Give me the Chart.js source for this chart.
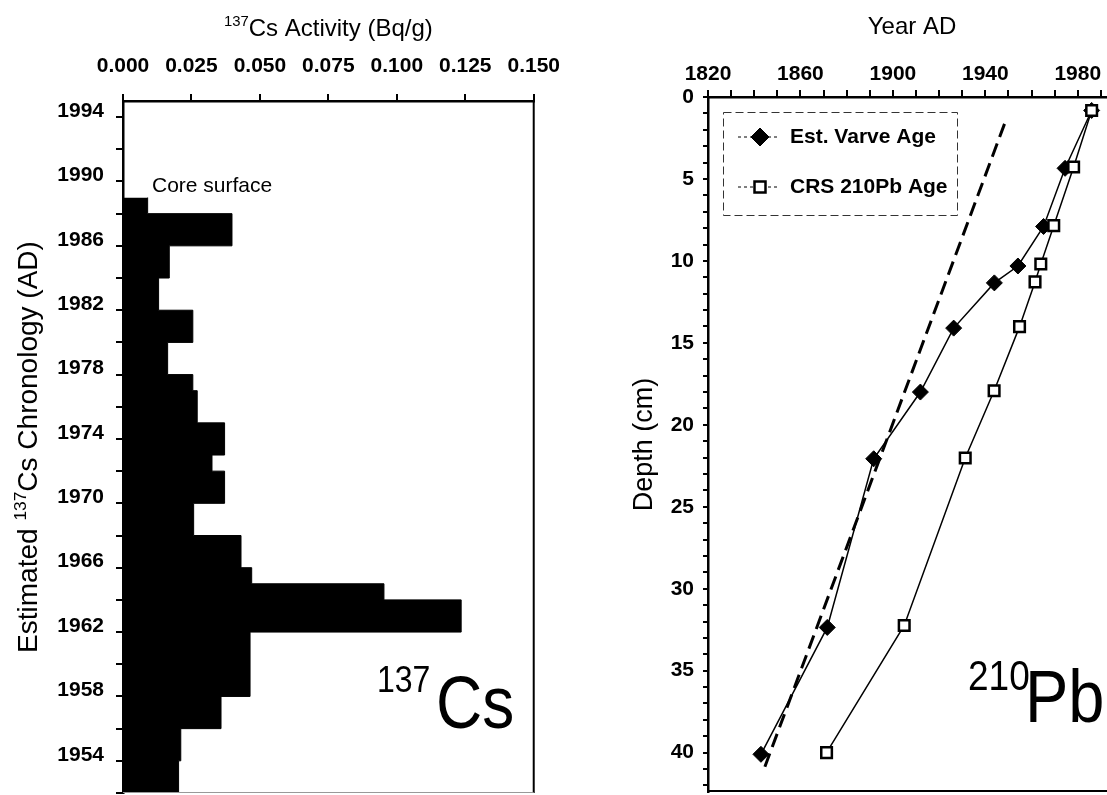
<!DOCTYPE html>
<html>
<head>
<meta charset="utf-8">
<script src="https://cdn.jsdelivr.net/npm/chart.js@4.4.1/dist/chart.umd.min.js"></script>
<style>
  html, body { margin: 0; padding: 0; background: #fff; overflow: hidden; width: 1107px; height: 795px; }
  #left { position: absolute; left: 0; top: 0; }
  #right { position: absolute; left: 580px; top: 0; }
</style>
</head>
<body>
<canvas id="left" width="575" height="795"></canvas>
<canvas id="right" width="564" height="795"></canvas>
<script>
// 137Cs profile: bin edges (year AD) and activity of each bin (Bq/g)
const csBinEdges = [1952, 1954, 1956, 1958, 1962, 1964, 1965, 1966, 1968, 1970, 1972, 1973, 1975, 1977, 1978, 1980, 1982, 1984, 1986, 1988, 1989];
const csActivity = [0.0203, 0.0211, 0.0358, 0.0464, 0.1235, 0.0953, 0.0470, 0.0431, 0.0258, 0.0371, 0.0325, 0.0371, 0.0271, 0.0255, 0.0163, 0.0255, 0.0130, 0.0169, 0.0398, 0.0090];
const csYearLabels = [1954, 1958, 1962, 1966, 1970, 1974, 1978, 1982, 1986, 1990, 1994];

// 210Pb panel: depth (cm) against age (year AD)
const varveDepth = [0.82, 4.35, 7.9, 10.31, 11.34, 14.1, 18.0, 22.07, 32.36, 40.1];
const varveYear = [1986.0, 1974.5, 1965.2, 1954.1, 1943.9, 1926.3, 1911.9, 1891.7, 1871.6, 1842.9];
const crsDepth = [0.82, 4.27, 7.85, 10.19, 11.28, 14.01, 17.92, 22.02, 32.24, 40.0];
const crsYear = [1986.0, 1978.2, 1969.6, 1964.0, 1961.5, 1954.8, 1943.8, 1931.3, 1904.9, 1871.3];
const trendDepth = [1.64, 41.2];
const trendYear = [1948.3, 1843.7];
const pbYearLabels = [1820, 1860, 1900, 1940, 1980];
const depthLabels = [0, 5, 10, 15, 20, 25, 30, 35, 40];

const FONT = "'Liberation Sans', Arial, sans-serif";
Chart.defaults.font.family = FONT;
Chart.defaults.color = '#000';

// text with superscript parts, y = baseline
function richText(ctx, parts, x, y, size, align) {
  const fonts = parts.map(p => (p.sup ? size * 0.62 : size) + 'px ' + FONT);
  let total = 0;
  const widths = parts.map((p, i) => {
    ctx.font = fonts[i];
    const w = ctx.measureText(p.t).width;
    total += w;
    return w;
  });
  let cx = align === 'center' ? x - total / 2 : x;
  ctx.textAlign = 'left';
  ctx.textBaseline = 'alphabetic';
  parts.forEach((p, i) => {
    ctx.font = fonts[i];
    ctx.fillText(p.t, cx, p.sup ? y - size * 0.4 : y);
    cx += widths[i];
  });
}

// big isotope label, slightly stretched vertically like the scan
function bigLabel(ctx, sup, main, sx, sBase, sSize, mx, mBase, mSize) {
  ctx.textAlign = 'left';
  ctx.textBaseline = 'alphabetic';
  [[sup, sx, sBase, sSize], [main, mx, mBase, mSize]].forEach(([t, x, y, s]) => {
    ctx.save();
    ctx.translate(x, y);
    ctx.scale(1, 1.15);
    ctx.font = s + 'px ' + FONT;
    ctx.fillText(t, 0, 0);
    ctx.restore();
  });
}

// fixed axis box sizes, no extra label padding along the axis
const fixHeight = h => s => { s.height = h; };
const fixWidth = w => s => { s.width = w; s.paddingTop = 0; s.paddingBottom = 0; };

const leftDecor = {
  id: 'leftDecor',
  afterDraw(chart) {
    const { ctx, chartArea: a } = chart;
    ctx.save();
    ctx.strokeStyle = '#000';
    ctx.lineWidth = 2;
    ctx.beginPath(); ctx.moveTo(a.right, a.top); ctx.lineTo(a.right, a.bottom); ctx.stroke();
    ctx.strokeStyle = '#999';
    ctx.lineWidth = 1;
    ctx.beginPath(); ctx.moveTo(a.left, a.bottom - 0.5); ctx.lineTo(a.right, a.bottom - 0.5); ctx.stroke();

    ctx.fillStyle = '#000';
    richText(ctx, [{ t: '137', sup: true }, { t: 'Cs Activity (Bq/g)' }], (a.left + a.right) / 2, 36, 24, 'center');

    ctx.save();
    ctx.translate(37, (a.top + a.bottom) / 2);
    ctx.rotate(-Math.PI / 2);
    richText(ctx, [{ t: 'Estimated ' }, { t: '137', sup: true }, { t: 'Cs Chronology (AD)' }], 0, 0, 28, 'center');
    ctx.restore();

    ctx.font = '21px ' + FONT;
    ctx.textAlign = 'left';
    ctx.textBaseline = 'alphabetic';
    ctx.fillText('Core surface', 152, 192);

    bigLabel(ctx, '137', 'Cs', 377, 692, 32, 436, 728, 64);
    ctx.restore();
  }
};

const csPoints = csBinEdges.map((y, i) => ({ x: csActivity[Math.min(i, csActivity.length - 1)], y }));

new Chart(document.getElementById('left'), {
  type: 'line',
  data: {
    datasets: [{
      data: csPoints,
      stepped: 'after',
      fill: 'origin',
      backgroundColor: '#000',
      borderColor: '#000',
      borderWidth: 1,
      pointRadius: 0
    }]
  },
  options: {
    indexAxis: 'y',
    responsive: false,
    animation: false,
    layout: { autoPadding: false, padding: { left: 0, top: 0, right: 39, bottom: 2 } },
    plugins: { legend: { display: false }, tooltip: { enabled: false } },
    scales: {
      x: {
        type: 'linear', position: 'top', min: 0, max: 0.15,
        afterFit: fixHeight(101),
        border: { color: '#000', width: 2.5 },
        grid: { drawOnChartArea: false, color: '#000', lineWidth: 2, tickLength: 7 },
        ticks: {
          stepSize: 0.025, padding: 15, autoSkip: false, maxRotation: 0,
          font: { size: 21, weight: 'bold' },
          callback: v => v.toFixed(3)
        }
      },
      y: {
        type: 'linear', min: 1952, max: 1995,
        afterFit: fixWidth(123),
        border: { color: '#000', width: 2.5 },
        grid: { drawOnChartArea: false, color: '#000', lineWidth: 2, tickLength: 7 },
        ticks: {
          stepSize: 2, includeBounds: false, padding: 12, autoSkip: false, labelOffset: -6,
          font: { size: 21, weight: 'bold' },
          callback: v => csYearLabels.includes(v) ? String(v) : ''
        }
      }
    }
  },
  plugins: [leftDecor]
});

const rightDecor = {
  id: 'rightDecor',
  afterDraw(chart) {
    const { ctx, chartArea: a } = chart;
    ctx.save();
    ctx.strokeStyle = '#000';
    ctx.lineWidth = 2;
    ctx.beginPath(); ctx.moveTo(a.left, a.bottom - 1); ctx.lineTo(a.right, a.bottom - 1); ctx.stroke();

    ctx.fillStyle = '#000';
    ctx.font = '24px ' + FONT;
    ctx.textAlign = 'center';
    ctx.textBaseline = 'alphabetic';
    ctx.fillText('Year AD', 332, 34);

    ctx.save();
    ctx.translate(72, (a.top + a.bottom) / 2);
    ctx.rotate(-Math.PI / 2);
    ctx.font = '27px ' + FONT;
    ctx.fillText('Depth (cm)', 0, 0);
    ctx.restore();

    bigLabel(ctx, '210', 'Pb', 388, 690, 37, 445, 722, 65);

    // legend box
    ctx.lineWidth = 1;
    ctx.strokeStyle = '#333';
    ctx.setLineDash([8, 4]);
    ctx.strokeRect(143.5, 112.5, 234, 103);
    const entries = chart.data.datasets.slice(0, 2);
    entries.forEach((ds, i) => {
      const y = 137 + i * 50;
      ctx.setLineDash([3, 3]);
      ctx.strokeStyle = '#000';
      ctx.lineWidth = 1;
      ctx.beginPath(); ctx.moveTo(158, y); ctx.lineTo(198, y); ctx.stroke();
      ctx.setLineDash([]);
      ctx.beginPath();
      if (ds.pointStyle === 'rectRot') {
        const r = 9;
        ctx.moveTo(180 - r, y); ctx.lineTo(180, y - r); ctx.lineTo(180 + r, y); ctx.lineTo(180, y + r);
      } else {
        const h = 5.5;
        ctx.rect(180 - h, y - h, 2 * h, 2 * h);
      }
      ctx.closePath();
      ctx.fillStyle = ds.pointBackgroundColor;
      ctx.fill();
      ctx.lineWidth = ds.pointBorderWidth;
      ctx.stroke();
      ctx.fillStyle = '#000';
      ctx.font = 'bold 21px ' + FONT;
      ctx.textAlign = 'left';
      ctx.textBaseline = 'middle';
      ctx.fillText(ds.label, 210, y);
    });
    ctx.restore();
  }
};

new Chart(document.getElementById('right'), {
  type: 'scatter',
  data: {
    datasets: [
      {
        label: 'Est. Varve Age',
        data: varveYear.map((x, i) => ({ x, y: varveDepth[i] })),
        showLine: true, borderColor: '#000', borderWidth: 1.5,
        pointStyle: 'rectRot', pointRadius: 8,
        pointBackgroundColor: '#000', pointBorderColor: '#000', pointBorderWidth: 1,
        order: 2
      },
      {
        label: 'CRS 210Pb Age',
        data: crsYear.map((x, i) => ({ x, y: crsDepth[i] })),
        showLine: true, borderColor: '#000', borderWidth: 1.5,
        pointStyle: 'rect', pointRadius: 7.5,
        pointBackgroundColor: '#fff', pointBorderColor: '#000', pointBorderWidth: 2.5,
        order: 1
      },
      {
        label: 'trend',
        data: trendYear.map((x, i) => ({ x, y: trendDepth[i] })),
        showLine: true, borderColor: '#000', borderWidth: 3, borderDash: [14, 7],
        pointRadius: 0,
        order: 3
      }
    ]
  },
  options: {
    responsive: false,
    animation: false,
    layout: { autoPadding: false, padding: { left: 0, top: 0, right: 20, bottom: 3 } },
    plugins: { legend: { display: false }, tooltip: { enabled: false } },
    scales: {
      x: {
        type: 'linear', position: 'top', min: 1820, max: 2000,
        afterFit: fixHeight(97),
        border: { color: '#000', width: 2.5 },
        grid: { drawOnChartArea: false, color: '#000', lineWidth: 2, tickLength: 7 },
        ticks: {
          stepSize: 10, padding: 3, autoSkip: false, maxRotation: 0,
          font: { size: 21, weight: 'bold' },
          callback: v => pbYearLabels.includes(v) ? String(v) : ''
        }
      },
      y: {
        type: 'linear', reverse: true, min: 0, max: 42.4,
        afterFit: fixWidth(128),
        border: { color: '#000', width: 2.5 },
        grid: { drawOnChartArea: false, color: '#000', lineWidth: 2, tickLength: 5 },
        ticks: {
          stepSize: 1, includeBounds: false, padding: 9, autoSkip: false,
          font: { size: 21, weight: 'bold' },
          callback: v => depthLabels.includes(v) ? String(v) : ''
        }
      }
    }
  },
  plugins: [rightDecor]
});
</script>
</body>
</html>
